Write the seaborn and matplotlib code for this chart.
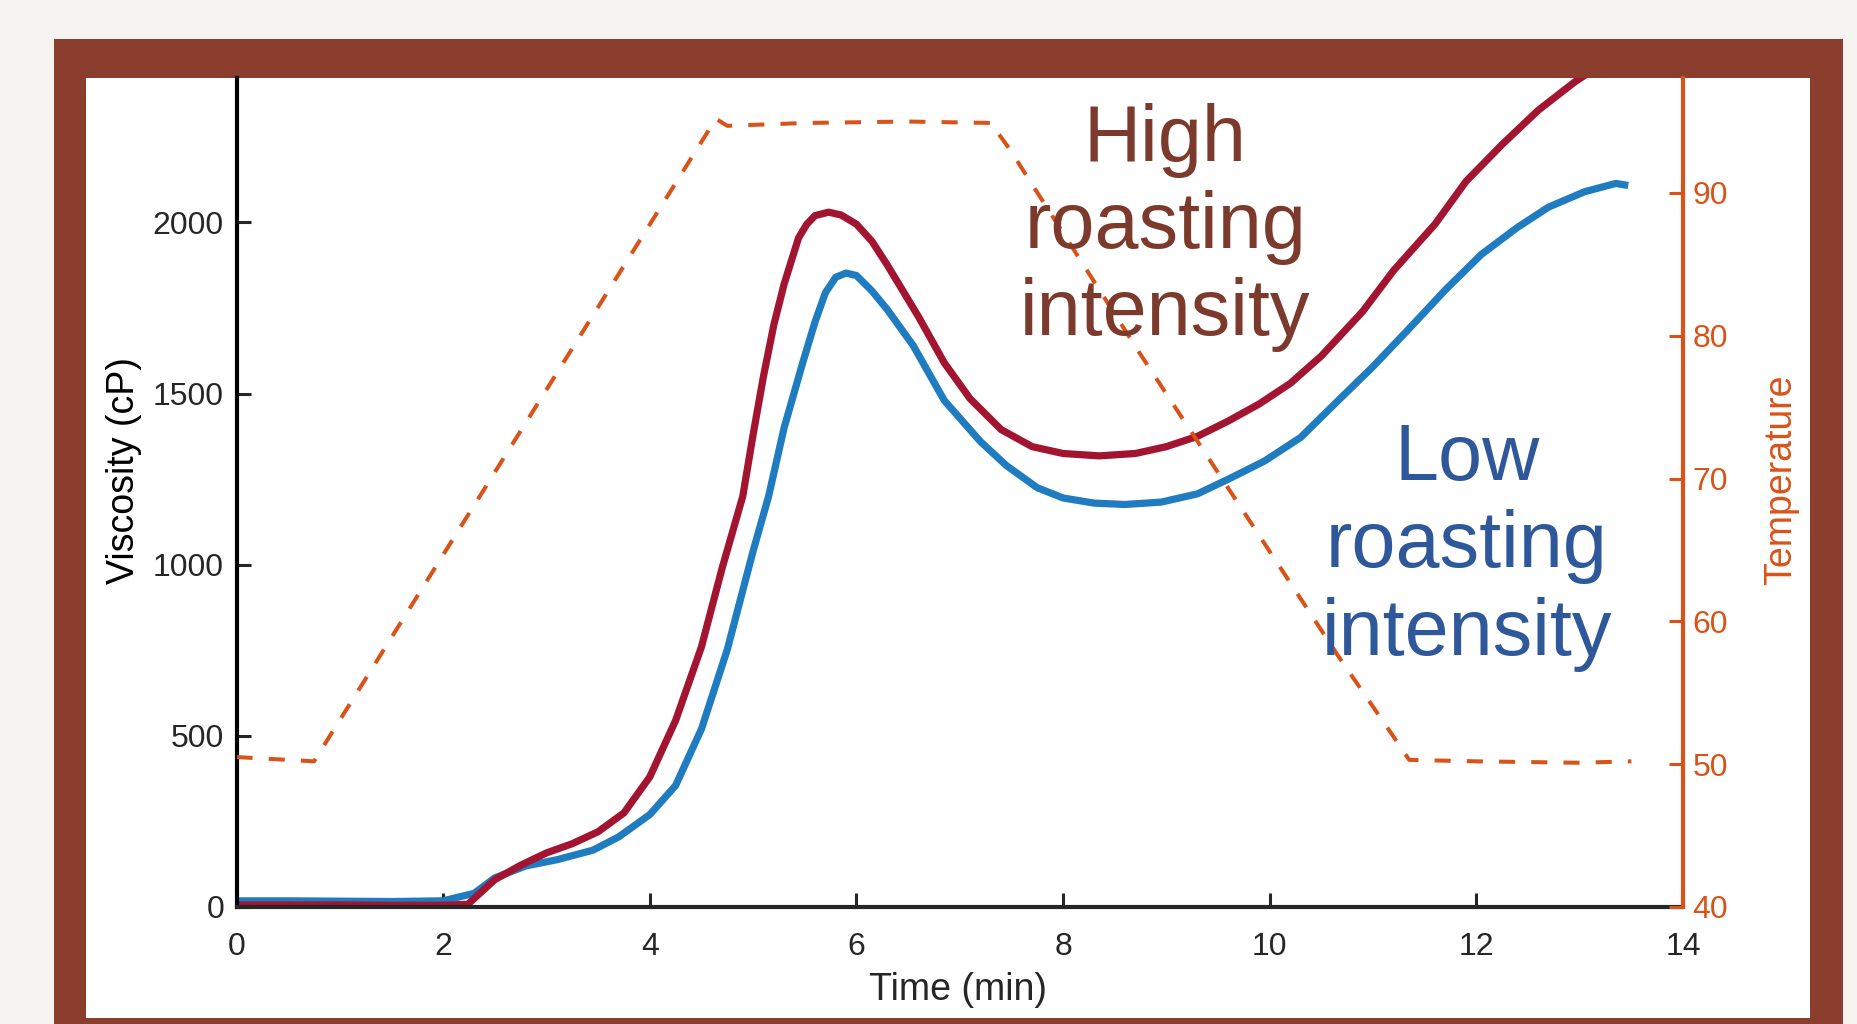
import matplotlib
matplotlib.use("Agg")
import matplotlib.pyplot as plt
from matplotlib.patches import Rectangle
import seaborn as sns
import pandas as pd

# ---------------- data ----------------
high_time = [0, 0.5, 1.0, 1.5, 2.0, 2.24, 2.5, 2.75, 3.0, 3.25, 3.5, 3.75, 4.0,
             4.25, 4.5, 4.7, 4.9, 5.0, 5.1, 5.2, 5.3, 5.44, 5.52, 5.6, 5.73,
             5.85, 6.0, 6.15, 6.3, 6.45, 6.6, 6.85, 7.1, 7.4, 7.7, 8.0, 8.35,
             8.7, 9.0, 9.3, 9.6, 9.9, 10.2, 10.5, 10.9, 11.2, 11.6, 11.9, 12.25,
             12.6, 12.95, 13.2, 13.5]
high_visc = [6, 6, 6, 5, 5, 8, 80, 122, 158, 185, 220, 275, 380,
             545, 760, 990, 1200, 1380, 1550, 1700, 1820, 1955, 1995, 2020, 2030,
             2022, 1995, 1945, 1875, 1800, 1725, 1590, 1485, 1395, 1345, 1325, 1318,
             1325, 1345, 1375, 1420, 1470, 1530, 1610, 1740, 1860, 1995, 2120, 2228,
             2328, 2410, 2460, 2530]

low_time = [0, 0.5, 1.0, 1.5, 2.0, 2.3, 2.5, 2.8, 3.1, 3.45, 3.7, 4.0, 4.25,
            4.5, 4.75, 5.0, 5.15, 5.3, 5.48, 5.6, 5.7, 5.8, 5.9, 6.0, 6.15,
            6.3, 6.55, 6.85, 7.2, 7.45, 7.75, 8.0, 8.3, 8.6, 8.95, 9.3, 9.6,
            9.95, 10.3, 10.65, 11.0, 11.35, 11.7, 12.05, 12.4, 12.7, 13.05,
            13.35, 13.47]
low_visc = [18, 18, 17, 16, 18, 40, 85, 120, 138, 166, 205, 270, 355,
            520, 752, 1040, 1200, 1400, 1590, 1710, 1795, 1840, 1852, 1845, 1800,
            1745, 1640, 1480, 1360, 1290, 1225, 1195, 1180, 1176, 1183, 1207, 1250,
            1303, 1372, 1476, 1579, 1690, 1803, 1907, 1986, 2045, 2090,
            2114, 2108]

temp_time = [0, 0.75, 4.64, 4.75, 5.5, 6.5, 7.32, 7.36, 7.48, 8.74, 10.67,
             11.22, 11.35, 12.0, 13.0, 13.5]
temp_vals = [50.5, 50.2, 95.2, 94.7, 94.9, 95.0, 94.9, 94.3, 93.1, 78.8, 57.5,
             51.7, 50.3, 50.2, 50.1, 50.2]

x_ticks = [0, 2, 4, 6, 8, 10, 12, 14]
visc_ticks = [0, 500, 1000, 1500, 2000]
temp_ticks = [40, 50, 60, 70, 80, 90]

x_label = "Time (min)"
visc_label = "Viscosity (cP)"
temp_label = "Temperature"
high_text = "High\nroasting\nintensity"
low_text = "Low\nroasting\nintensity"

# ---------------- style ----------------
RED = "#A2142F"
BLUE = "#1F7CC0"
ORANGE = "#D95319"
FRAME = "#8B3D2E"
BG = "#F5F4F0"
HIGH_C = "#7B3A2B"
LOW_C = "#2E5899"
INK = "#262626"

sns.set_theme(style="ticks")
plt.rcParams["font.family"] = ["Liberation Sans", "DejaVu Sans"]

W, H = 1857, 1024
fig = plt.figure(figsize=(W / 100, H / 100), dpi=100)
fig.patch.set_facecolor(BG)

def px_rect(x0, y0, x1, y1, color, z):
    r = Rectangle((x0 / W, 1 - y1 / H), (x1 - x0) / W, (y1 - y0) / H,
                  transform=fig.transFigure, facecolor=color, edgecolor="none",
                  zorder=z)
    fig.add_artist(r)

px_rect(54, 39, 1843, 1030, FRAME, -20)
px_rect(86, 78, 1810, 1018, "white", -19)

axL, axR, axB, axT = 236.5, 1683, 907, 78
ax = fig.add_axes([axL / W, 1 - axB / H, (axR - axL) / W, (axB - axT) / H])
ax.set_facecolor("none")
ax2 = ax.twinx()

df_low = pd.DataFrame({"t": low_time, "v": low_visc})
df_high = pd.DataFrame({"t": high_time, "v": high_visc})
df_temp = pd.DataFrame({"t": temp_time, "T": temp_vals})

sns.lineplot(data=df_low, x="t", y="v", ax=ax, color=BLUE, lw=5.2,
             estimator=None, sort=False)
sns.lineplot(data=df_high, x="t", y="v", ax=ax, color=RED, lw=5.2,
             estimator=None, sort=False)
sns.lineplot(data=df_temp, x="t", y="T", ax=ax2, color=ORANGE, lw=2.9,
             estimator=None, sort=False)
for ln in ax.lines:
    ln.set_solid_capstyle("butt")
    ln.set_solid_joinstyle("round")
ax2.lines[0].set_dashes((4.0, 4.0))

ax.set_xlim(0, 14)
ax.set_ylim(0, 2422)
ax2.set_ylim(40, 98.05)
ax.set_xticks(x_ticks)
ax.set_yticks(visc_ticks)
ax2.set_yticks(temp_ticks)

for s in ["top", "right"]:
    ax.spines[s].set_visible(False)
for s in ["top", "left", "bottom"]:
    ax2.spines[s].set_visible(False)
ax.spines["left"].set_color("black")
ax.spines["bottom"].set_color(INK)
ax.spines["left"].set_linewidth(3.0)
ax.spines["bottom"].set_linewidth(3.0)
ax2.spines["right"].set_color(ORANGE)
ax2.spines["right"].set_linewidth(3.0)

ax.tick_params(axis="both", direction="in", length=10, width=2.2,
               labelsize=23, colors=INK, labelcolor=INK)
ax.tick_params(axis="y", pad=9, left=True, right=False)
ax.tick_params(axis="x", pad=18, bottom=True, top=False)
ax2.tick_params(axis="y", direction="in", length=10, width=2.2, labelsize=23,
                colors=ORANGE, pad=7)

ax.set_xlabel(x_label, fontsize=27, color=INK, va="center")
ax.xaxis.set_label_coords(0.499, -0.100)
ax.set_ylabel(visc_label, fontsize=27, color="black", va="center")
ax.yaxis.set_label_coords(-0.0781, 0.526)
ax2.set_ylabel(temp_label, fontsize=27, color=ORANGE, va="center")
ax2.yaxis.set_label_coords(1.0678, 0.515)

# multi-line labels anchored at the baseline of their last line
tscale = (98.05 - 40) / 2422
ax2.text(8.99, 1671 * tscale + 40, high_text, fontsize=57,
         color=HIGH_C, ha="center", va="baseline", linespacing=1.21)
ax2.text(11.91, 736 * tscale + 40, low_text, fontsize=57,
         color=LOW_C, ha="center", va="baseline", linespacing=1.22)

ax.grid(False)
ax2.grid(False)
fig.savefig("out.png", dpi=100, facecolor=BG)
